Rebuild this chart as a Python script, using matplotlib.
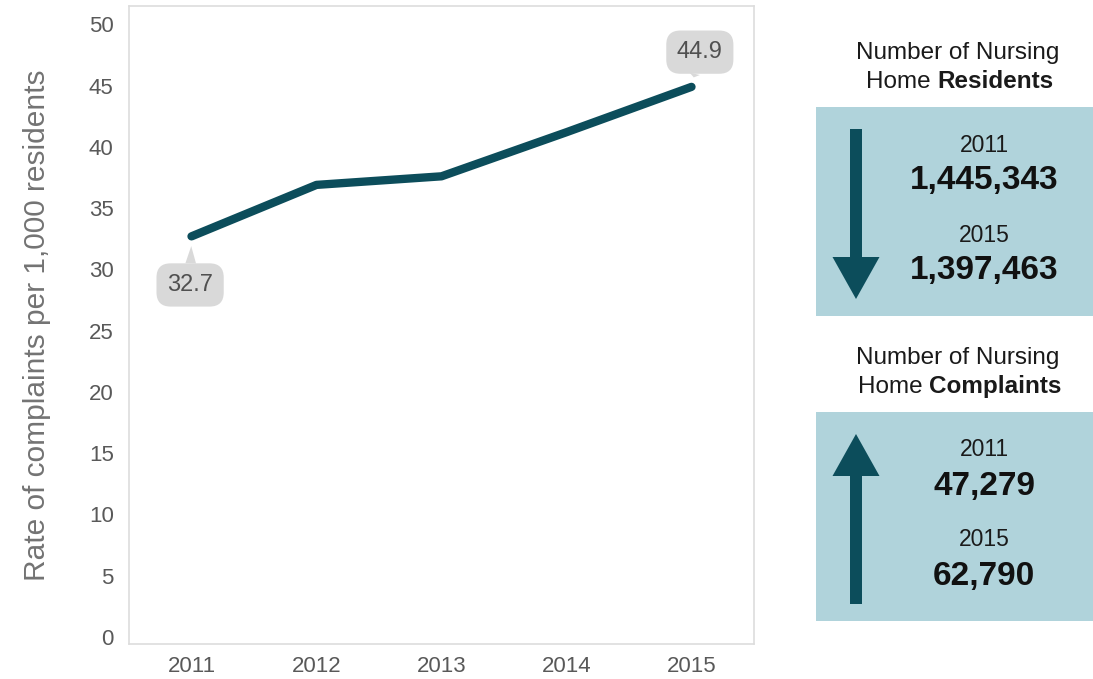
import matplotlib
matplotlib.use("Agg")
import matplotlib.pyplot as plt
from matplotlib.patches import Rectangle, FancyArrow

plt.rcParams["font.family"] = ["Liberation Sans", "DejaVu Sans"]

# data
years = [2011, 2012, 2013, 2014, 2015]
rate = [32.7, 36.9, 37.6, 41.2, 44.9]
yticks = list(range(0, 55, 5))

panel_titles = [("Number of Nursing", "Home ", "Residents"),
                ("Number of Nursing", "Home ", "Complaints")]
panel_years = ["2011", "2015"]
residents = ["1,445,343", "1,397,463"]
complaints = ["47,279", "62,790"]

LINE = "#0c4d5b"
BOX = "#b0d3db"
GRAY_TXT = "#595959"

fig = plt.figure(figsize=(10.93, 6.79), dpi=100)

# main line chart
ax = fig.add_axes([129 / 1093, 1 - 644 / 679, (754 - 129) / 1093, (644 - 6) / 679])
ax.plot(years, rate, color=LINE, linewidth=6, solid_capstyle="round",
        solid_joinstyle="round")
ax.set_xlim(2010.5, 2015.5)
ax.set_ylim(-0.57, 51.5)
ax.set_xticks(years)
ax.set_yticks(yticks)
ax.tick_params(length=0, labelsize=16, colors=GRAY_TXT)
ax.tick_params(axis="y", pad=11)
ax.tick_params(axis="x", pad=9)
for s in ax.spines.values():
    s.set_color("#dddddd")
    s.set_linewidth(1.2)
ax.set_ylabel("Rate of complaints per 1,000 residents", fontsize=21.5,
              color="#737373", labelpad=27)

bubble = dict(boxstyle="round,pad=0.45,rounding_size=0.6", fc="#d9d9d9", ec="none")
wedge = dict(arrowstyle="wedge,tail_width=0.45,shrink_factor=0.5", fc="#d9d9d9",
             ec="none", shrinkA=0, shrinkB=7)
ax.annotate(f"{rate[0]}", xy=(years[0], rate[0]), xytext=(-1, -35),
            textcoords="offset points", ha="center", va="center",
            fontsize=17, color="#505050", bbox=bubble, arrowprops=wedge)
ax.annotate(f"{rate[-1]}", xy=(years[-1], rate[-1]), xytext=(6, 25),
            textcoords="offset points", ha="center", va="center",
            fontsize=17, color="#505050", bbox=bubble, arrowprops=wedge)

# right-hand panels drawn in pixel coordinates
ov = fig.add_axes([0, 0, 1, 1])
ov.set_xlim(0, 1093)
ov.set_ylim(679, 0)
ov.axis("off")
renderer = fig.canvas.get_renderer()


def panel(top, title, values, down):
    line1, plain, bold = title
    ov.text(958, top - 54, line1, ha="center", va="center",
            fontsize=17.5, color="#1a1a1a")
    # centre "Home <bold>" as one line
    t1 = ov.text(0, top - 25, plain, ha="left", va="center",
                 fontsize=17.5, color="#1a1a1a")
    t2 = ov.text(0, top - 25, bold, ha="left", va="center", fontsize=17.5,
                 fontweight="bold", color="#1a1a1a")
    w1 = t1.get_window_extent(renderer).width
    w2 = t2.get_window_extent(renderer).width
    x0 = 960 - (w1 + w2) / 2
    t1.set_x(x0)
    t2.set_x(x0 + w1)
    ov.add_patch(Rectangle((816, top), 290, 209, fc=BOX, ec="none"))
    if down:
        ov.add_patch(FancyArrow(856, top + 22, 0, 170, width=12,
                                head_width=47, head_length=42,
                                length_includes_head=True, color=LINE, lw=0))
    else:
        ov.add_patch(FancyArrow(856, top + 192, 0, -170, width=12,
                                head_width=47, head_length=42,
                                length_includes_head=True, color=LINE, lw=0))
    offs = [(38, 74), (128, 164)]
    for (oy_year, oy_val), yr, val in zip(offs, panel_years, values):
        ov.text(984, top + oy_year, yr, ha="center", va="center", fontsize=16.5,
                color="#1a1a1a")
        ov.text(984, top + oy_val, val, ha="center", va="center", fontsize=24,
                fontweight="bold", color="#111111")


panel(107, panel_titles[0], residents, down=True)
panel(412, panel_titles[1], complaints, down=False)

fig.savefig("out.png", dpi=100)
